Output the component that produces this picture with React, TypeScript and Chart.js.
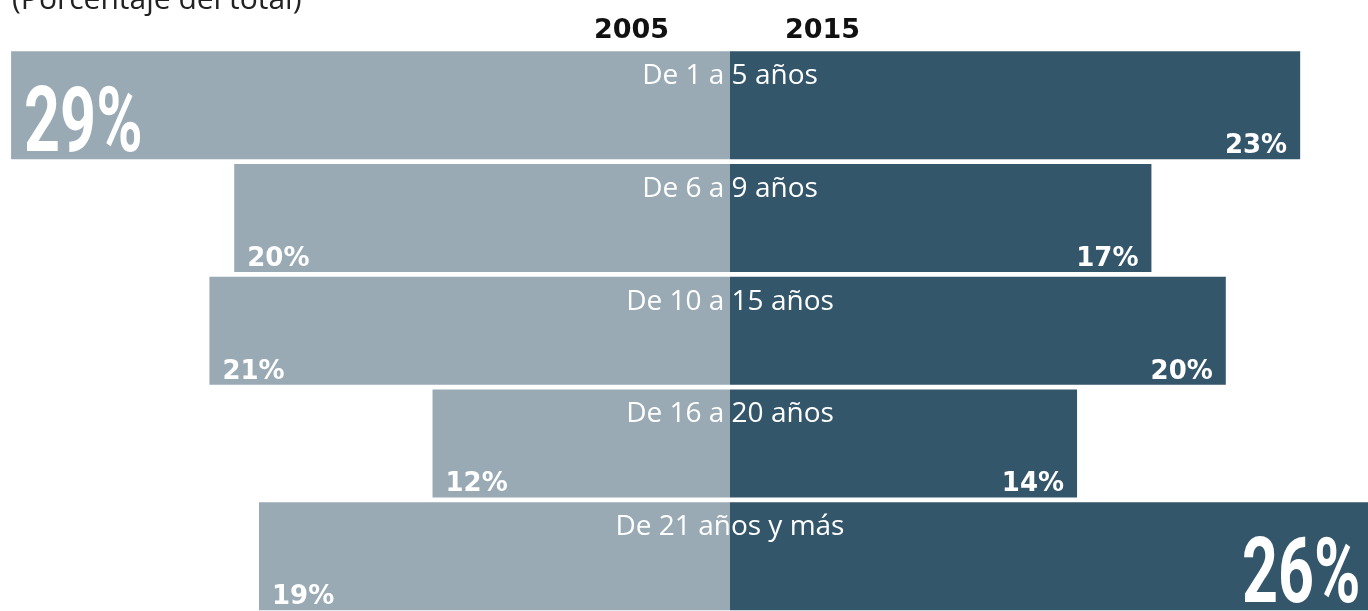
import React, { useEffect, useRef } from "react";
import { Chart, registerables } from "chart.js";

Chart.register(...registerables);

const categories = ["De 1 a 5 años", "De 6 a 9 años", "De 10 a 15 años", "De 16 a 20 años", "De 21 años y más"];
const years = ["2005", "2015"];
const values2005 = [29, 20, 21, 12, 19];
const values2015 = [23, 17, 20, 14, 26];
const subtitle = "(Porcentaje del total)";

const COLOR_2005 = "#99aab4";
const COLOR_2015 = "#34566b";

const CANVAS_W = 1400;
const CANVAS_H = 620;
const PX_PER_UNIT = 24.79;
const CENTER_X = 730;
const X_MIN = -CENTER_X / PX_PER_UNIT;
const X_MAX = (CANVAS_W - CENTER_X) / PX_PER_UNIT;

const labelsPlugin = {
  id: "butterflyLabels",
  afterDatasetsDraw(chart: any) {
    const ctx = chart.ctx as CanvasRenderingContext2D;
    const xScale = chart.scales.x;
    const zeroX = xScale.getPixelForValue(0);
    ctx.save();

    // subtitle (cut at the top)
    ctx.fillStyle = "#222222";
    ctx.font = "400 30px 'Open Sans'";
    ctx.textAlign = "left";
    ctx.textBaseline = "alphabetic";
    ctx.fillText(subtitle, 12, 8.5);

    // year headers
    ctx.fillStyle = "#111111";
    ctx.font = "700 27px 'DejaVu Sans'";
    ctx.textAlign = "center";
    ctx.fillText(years[0], 631.5, 38);
    ctx.fillText(years[1], 822.5, 38);

    const meta0 = chart.getDatasetMeta(0);
    const meta1 = chart.getDatasetMeta(1);

    // category labels
    ctx.fillStyle = "#ffffff";
    ctx.font = "400 28px 'Open Sans'";
    ctx.textAlign = "center";
    meta0.data.forEach((el: any, i: number) => {
      const p = el.getProps(["y", "height"], true);
      const top = p.y - p.height / 2;
      ctx.fillText(categories[i], zeroX, top + 33);
    });

    const drawValues = (meta: any, vals: number[], left: boolean) => {
      const maxV = Math.max(...vals);
      meta.data.forEach((el: any, i: number) => {
        const p = el.getProps(["x", "y", "base", "height"], true);
        const bottom = p.y + p.height / 2;
        const end = p.x;
        const text = vals[i] + "%";
        ctx.fillStyle = "#ffffff";
        if (vals[i] === maxV) {
          ctx.font = "700 91px 'Roboto'";
          const sx = 0.69;
          ctx.save();
          if (left) {
            ctx.translate(end + 13, bottom - 8.5);
            ctx.scale(sx, 1);
            ctx.textAlign = "left";
          } else {
            ctx.translate(end - 14, bottom - 8.5);
            ctx.scale(sx, 1);
            ctx.textAlign = "right";
          }
          ctx.fillText(text, 0, 0);
          ctx.restore();
        } else {
          ctx.font = "700 26px 'DejaVu Sans'";
          if (left) {
            ctx.textAlign = "left";
            ctx.fillText(text, end + 13, bottom - 6);
          } else {
            ctx.textAlign = "right";
            ctx.fillText(text, end - 13, bottom - 6);
          }
        }
      });
    };
    drawValues(meta0, values2005, true);
    drawValues(meta1, values2015, false);

    ctx.restore();
  },
};

export default function App() {
  const canvasRef = useRef<HTMLCanvasElement | null>(null);

  useEffect(() => {
    const canvas = canvasRef.current;
    if (!canvas) return;
    const chart = new Chart(canvas, {
      type: "bar",
      data: {
        labels: categories,
        datasets: [
          {
            label: years[0],
            data: values2005.map((v) => -v),
            backgroundColor: COLOR_2005,
            borderWidth: 0,
            barPercentage: 0.958,
            categoryPercentage: 1,
          },
          {
            label: years[1],
            data: values2015,
            backgroundColor: COLOR_2015,
            borderWidth: 0,
            barPercentage: 0.958,
            categoryPercentage: 1,
          },
        ],
      },
      options: {
        indexAxis: "y",
        animation: false,
        responsive: false,
        maintainAspectRatio: false,
        devicePixelRatio: 1,
        layout: { padding: { top: 49, bottom: CANVAS_H - 49 - 563.5, left: 0, right: 0 } },
        scales: {
          x: { type: "linear", min: X_MIN, max: X_MAX, stacked: true, display: false },
          y: { type: "category", stacked: true, display: false },
        },
        plugins: {
          legend: { display: false },
          tooltip: { enabled: false },
          title: { display: false },
        },
      },
      plugins: [labelsPlugin],
    } as any);
    return () => chart.destroy();
  }, []);

  return (
    <div
      style={{
        position: "fixed",
        left: 0,
        top: 0,
        width: 1368,
        height: 611,
        overflow: "hidden",
        background: "#ffffff",
      }}
    >
      <canvas
        ref={canvasRef}
        width={CANVAS_W}
        height={CANVAS_H}
        style={{ position: "absolute", left: 0, top: 0, width: CANVAS_W, height: CANVAS_H }}
      />
    </div>
  );
}
